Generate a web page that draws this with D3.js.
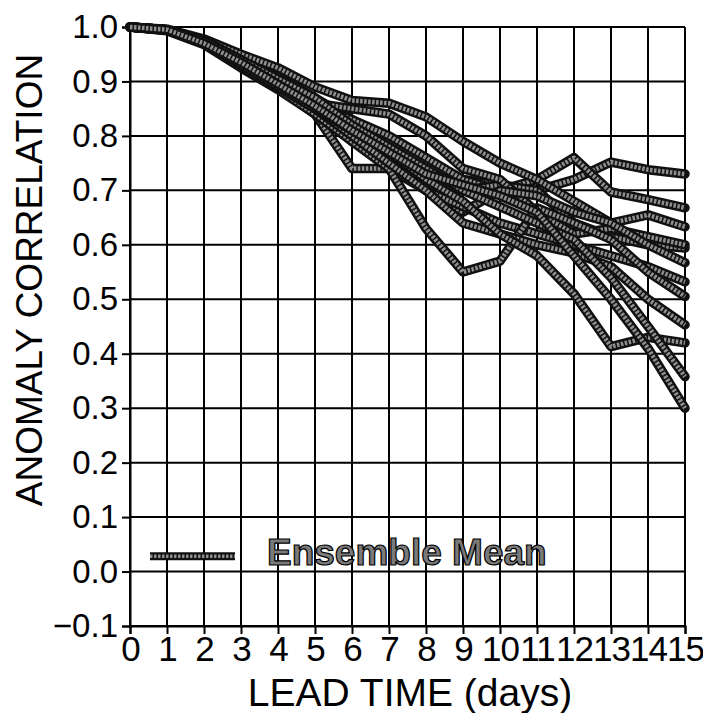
<!DOCTYPE html>
<html><head><meta charset="utf-8">
<script src="https://cdn.jsdelivr.net/npm/d3@7"></script>
<style>body{margin:0;background:#fff}</style>
</head><body>
<svg id="chart" width="703" height="713"></svg>
<script>
const days = [0,1,2,3,4,5,6,7,8,9,10,11,12,13,14,15];
const yTicks = [-0.1,0.0,0.1,0.2,0.3,0.4,0.5,0.6,0.7,0.8,0.9,1.0];
const yTickLabels = ["\u22120.1","0.0","0.1","0.2","0.3","0.4","0.5","0.6","0.7","0.8","0.9","1.0"];
const xTickLabels = ["0","1","2","3","4","5","6","7","8","9","10","11","12","13","14","15"];

const member01 = [1.00,0.995,0.975,0.940,0.910,0.870,0.830,0.790,0.750,0.720,0.710,0.700,0.720,0.752,0.738,0.730];
const member02 = [1.00,0.995,0.972,0.935,0.900,0.860,0.830,0.800,0.760,0.720,0.700,0.720,0.760,0.697,0.683,0.668];
const member03 = [1.00,0.996,0.978,0.950,0.925,0.890,0.865,0.860,0.835,0.790,0.750,0.720,0.680,0.640,0.655,0.633];
const member04 = [1.00,0.994,0.970,0.930,0.895,0.850,0.800,0.770,0.720,0.700,0.710,0.700,0.640,0.615,0.600,0.594];
const member05 = [1.00,0.995,0.975,0.940,0.900,0.860,0.850,0.840,0.800,0.740,0.720,0.660,0.620,0.630,0.615,0.600];
const member06 = [1.00,0.995,0.973,0.935,0.895,0.850,0.790,0.750,0.700,0.660,0.700,0.690,0.660,0.640,0.600,0.567];
const member07 = [1.00,0.995,0.970,0.930,0.890,0.840,0.740,0.740,0.700,0.670,0.640,0.620,0.600,0.580,0.560,0.532];
const member08 = [1.00,0.993,0.968,0.925,0.885,0.840,0.790,0.740,0.630,0.550,0.570,0.668,0.640,0.610,0.550,0.505];
const member09 = [1.00,0.994,0.970,0.930,0.890,0.850,0.800,0.750,0.700,0.640,0.620,0.600,0.585,0.560,0.500,0.453];
const member10 = [1.00,0.994,0.970,0.930,0.890,0.850,0.810,0.770,0.720,0.680,0.620,0.580,0.510,0.413,0.430,0.420];
const member11 = [1.00,0.995,0.975,0.940,0.905,0.870,0.820,0.780,0.740,0.700,0.670,0.640,0.610,0.540,0.450,0.358];
const member12 = [1.00,0.995,0.970,0.935,0.895,0.855,0.810,0.770,0.730,0.710,0.690,0.660,0.580,0.500,0.410,0.300];
const members = [member01,member02,member03,member04,member05,member06,member07,member08,member09,member10,member11,member12];
const legendLabel = "Ensemble Mean";

const svg = d3.select("#chart");
const x = d3.scaleLinear().domain([0,15]).range([130,685]);
const y = d3.scaleLinear().domain([-0.1,1.0]).range([626,27]);
const font = "'Liberation Sans', Arial, Helvetica, sans-serif";

// grid
svg.append("g").selectAll("line").data(days).join("line")
  .attr("x1", d=>x(d)).attr("x2", d=>x(d))
  .attr("y1", y(-0.1)).attr("y2", y(1.0) )
  .attr("stroke","#000").attr("stroke-width",2);
svg.append("g").selectAll("line").data(yTicks).join("line")
  .attr("x1", x(0)).attr("x2", x(15))
  .attr("y1", d=>y(d)).attr("y2", d=>y(d))
  .attr("stroke","#000").attr("stroke-width",2);

// axes
const yAxis = d3.axisLeft(y).tickValues(yTicks).tickSize(8).tickPadding(4)
  .tickFormat((d,i)=>yTickLabels[i]);
const gy = svg.append("g").attr("transform",`translate(${x(0)},0)`).call(yAxis);
gy.select(".domain").attr("stroke","#000").attr("stroke-width",2);
gy.selectAll(".tick line").attr("stroke","#000").attr("stroke-width",2);
gy.selectAll("text").attr("font-family",font).attr("font-size",33).attr("fill","#000");

const xAxis = d3.axisBottom(x).tickValues(days).tickSize(8).tickPadding(2)
  .tickFormat((d,i)=>xTickLabels[i]);
const gx = svg.append("g").attr("transform",`translate(0,${y(-0.1)})`).call(xAxis);
gx.select(".domain").attr("stroke","#000").attr("stroke-width",2);
gx.selectAll(".tick line").attr("stroke","#000").attr("stroke-width",2);
gx.selectAll("text").attr("font-family",font).attr("font-size",35).attr("fill","#000")
  .attr("letter-spacing",-1);

// titles
svg.append("text").attr("x",410).attr("y",706).attr("text-anchor","middle")
  .attr("font-family",font).attr("font-size",39).text("LEAD TIME (days)");
svg.append("text").attr("transform",`translate(42,280) rotate(-90)`)
  .attr("text-anchor","middle").attr("font-family",font).attr("font-size",37)
  .text("ANOMALY CORRELATION");

// member lines
const line = d3.line().x((d,i)=>x(days[i])).y(d=>y(d));
const gl = svg.append("g");
members.forEach(m=>{
  gl.append("path").datum(m).attr("d",line).attr("fill","none")
    .attr("stroke","#111").attr("stroke-width",9.5).attr("stroke-linejoin","round").attr("stroke-linecap","round");
  gl.append("path").datum(m).attr("d",line).attr("fill","none")
    .attr("stroke","#8e8e8e").attr("stroke-width",4.5).attr("stroke-dasharray","2.5 1.5")
    .attr("stroke-linejoin","round");
});

// legend
const lx = d3.scaleLinear().domain([0,1]).range([150,235]);
const ly = y(0.028);
svg.append("line").attr("x1",lx(0)).attr("x2",lx(1)).attr("y1",ly).attr("y2",ly)
  .attr("stroke","#111").attr("stroke-width",8);
svg.append("line").attr("x1",lx(0)).attr("x2",lx(1)).attr("y1",ly).attr("y2",ly)
  .attr("stroke","#8e8e8e").attr("stroke-width",3.5).attr("stroke-dasharray","2.5 1.5");
svg.append("text").attr("x",267).attr("y",ly+9).attr("font-family",font)
  .attr("font-size",37).attr("font-weight","bold").attr("fill","#7a7a7a")
  .attr("stroke","#000").attr("stroke-width",1.2).text(legendLabel);
</script>
</body></html>
